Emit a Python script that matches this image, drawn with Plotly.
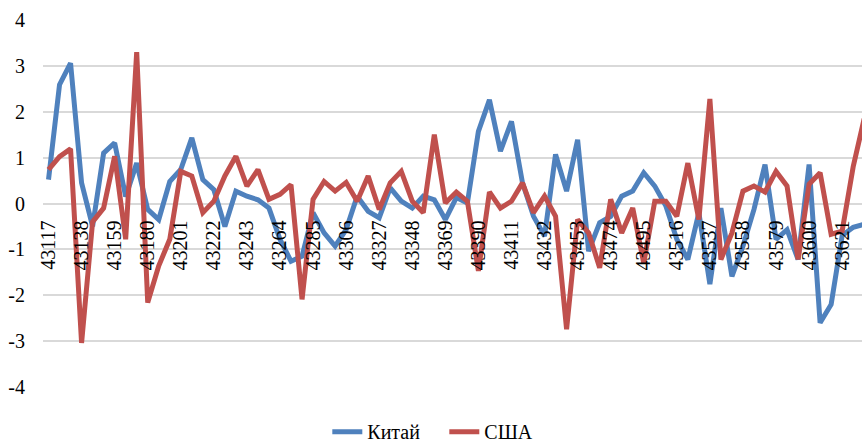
import plotly.graph_objects as go

start_date = 43117
dates = [start_date + 7 * i for i in range(75)]

china = [0.52, 2.59, 3.06, 0.45, -0.5, 1.1, 1.32, 0.15, 0.88, -0.13,
         -0.35, 0.48, 0.74, 1.43, 0.52, 0.3, -0.5, 0.27, 0.16, 0.08,
         -0.1, -0.78, -1.26, -1.15, -0.2, -0.64, -0.93, -0.57, 0.16, -0.17,
         -0.31, 0.34, 0.05, -0.1, 0.16, 0.08, -0.35, 0.13, 0.01, 1.57,
         2.26, 1.14, 1.79, 0.45, -0.28, -0.71, 1.07, 0.27, 1.39, -1.04,
         -0.42, -0.28, 0.16, 0.27, 0.67, 0.38, -0.05, -0.78, -1.22, -0.2,
         -1.76, -0.1, -1.59, -0.93, -0.13, 0.85, -0.78, -0.57, -1.22, 0.85,
         -2.6, -2.2, -0.7, -0.52, -0.45]
usa = [0.74, 1.02, 1.19, -3.04, -0.4, -0.1, 1.03, -0.78, 3.3, -2.16,
       -1.36, -0.78, 0.7, 0.6, -0.2, 0.05, 0.6, 1.03, 0.38, 0.74,
       0.09, 0.2, 0.41, -2.09, 0.09, 0.48, 0.27, 0.46, 0.05, 0.6,
       -0.13, 0.45, 0.7, 0.05, -0.2, 1.5, 0.01, 0.25, 0.05, -1.47,
       0.25, -0.1, 0.05, 0.45, -0.2, 0.16, -0.28, -2.74, -0.35, -0.64,
       -1.4, 0.09, -0.64, -0.1, -1.3, 0.05, 0.05, -0.28, 0.88, -0.35,
       2.28, -1.22, -0.64, 0.27, 0.38, 0.25, 0.7, 0.38, -1.22, 0.42,
       0.67, -0.67, -0.6, 0.8, 1.85]

tick_dates = [start_date + 21 * k for k in range(25)]
tick_labels = [str(d) for d in tick_dates]

y_tick_vals = [-4, -3, -2, -1, 0, 1, 2, 3, 4]
y_tick_labels = ["-4", "-3", "-2", "-1", "0", "1", "2", "3", "4"]

font_family = "Times New Roman, Liberation Serif, DejaVu Serif, serif"

fig = go.Figure()
fig.add_trace(go.Scatter(x=dates, y=china, mode="lines", name="Китай",
                         line=dict(color="#4F81BD", width=5)))
fig.add_trace(go.Scatter(x=dates, y=usa, mode="lines", name="США",
                         line=dict(color="#C0504D", width=5)))

fig.update_layout(
    width=862, height=445,
    margin=dict(l=43, r=0, t=20, b=58, autoexpand=False),
    paper_bgcolor="white", plot_bgcolor="white",
    font=dict(family=font_family, size=20, color="black"),
    showlegend=True,
    legend=dict(orientation="h", x=0.49, xanchor="center",
                yref="container", y=0.03, yanchor="middle",
                entrywidth=72, entrywidthmode="pixels",
                font=dict(size=20, family=font_family), traceorder="normal"),
    xaxis=dict(
        range=[start_date - 3.5, start_date + 7 * 73.8],
        tickmode="array", tickvals=tick_dates, ticktext=tick_labels,
        tickangle=-90, showgrid=False, zeroline=False, showline=False,
        ticks="", anchor="free", position=0.5, automargin=False,
        ticklabelstandoff=12,
        tickfont=dict(size=20, family=font_family),
    ),
    yaxis=dict(
        range=[-4, 4], tickmode="array", tickvals=y_tick_vals, ticktext=y_tick_labels,
        showgrid=True, gridcolor="#D9D9D9", gridwidth=1.5,
        zeroline=True, zerolinecolor="#D9D9D9", zerolinewidth=1.5,
        showline=False, ticks="", automargin=False, ticklabelstandoff=17,
        tickfont=dict(size=20, family=font_family),
    ),
)

fig.write_html("out.html", config={"displayModeBar": False},
               post_script="document.body.style.margin='0';document.body.style.overflow='hidden';")
